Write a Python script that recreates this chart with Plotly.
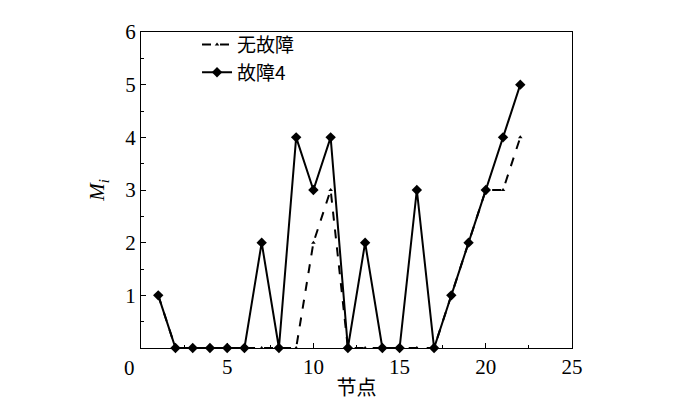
import plotly.graph_objects as go

nodes = list(range(1, 23))
m_normal = [1, 0, 0, 0, 0, 0, 0, 0, 0, 2, 3, 0, 0, 0, 0, 0, 0, 1, 2, 3, 3, 4]
m_fault4 = [1, 0, 0, 0, 0, 0, 2, 0, 4, 3, 4, 0, 2, 0, 0, 3, 0, 1, 2, 3, 4, 5]

x_ticks = [5, 10, 15, 20, 25]
y_ticks = [1, 2, 3, 4, 5, 6]

serif = "Liberation Serif"
cjk = "Noto Sans CJK SC"

fig = go.Figure()
fig.add_trace(go.Scatter(x=nodes, y=m_normal, name="无故障", mode="lines+markers",
                         line=dict(color="black", width=2, dash="dash"),
                         marker=dict(symbol="triangle-up", size=4, color="black"),
                         cliponaxis=True))
fig.add_trace(go.Scatter(x=nodes, y=m_fault4, name="故障4", mode="lines+markers",
                         line=dict(color="black", width=2),
                         marker=dict(symbol="diamond", size=8, color="black"),
                         cliponaxis=False))

fig.update_xaxes(range=[0, 25], tickvals=x_ticks, ticks="inside", ticklen=5,
                 tickcolor="black", showline=True, linecolor="black", linewidth=1,
                 mirror=True, showgrid=False, zeroline=False,
                 minor=dict(dtick=2.5, ticks="inside", ticklen=3, tickcolor="black"),
                 title=dict(text="节点", font=dict(size=20, family=cjk), standoff=2),
                 tickfont=dict(size=21, family=serif, color="black"))
fig.update_yaxes(range=[0, 6], tickvals=y_ticks, ticks="inside", ticklen=5,
                 tickcolor="black", showline=True, linecolor="black", linewidth=1,
                 mirror=True, showgrid=False, zeroline=False,
                 minor=dict(dtick=0.5, ticks="inside", ticklen=3, tickcolor="black"),
                 title=dict(text="<i>M</i><sub><i>i</i></sub>", font=dict(size=21, family=serif), standoff=14),
                 tickfont=dict(size=21, family=serif, color="black"))

# shared origin label in the corner
fig.add_annotation(text="0", xref="x", yref="y", x=0, y=0, xshift=-12, yshift=-20,
                   showarrow=False, font=dict(size=21, family=serif, color="black"))

fig.update_layout(width=700, height=405, plot_bgcolor="white", paper_bgcolor="white",
                  margin=dict(l=133, r=136, t=14, b=65),
                  font=dict(family=serif, color="black"),
                  legend=dict(x=0.13, y=1.02, xanchor="left", yanchor="top",
                              bgcolor="rgba(0,0,0,0)", itemwidth=30, tracegroupgap=0,
                              font=dict(size=19, family=cjk, color="black")))

fig.write_html("out.html")
